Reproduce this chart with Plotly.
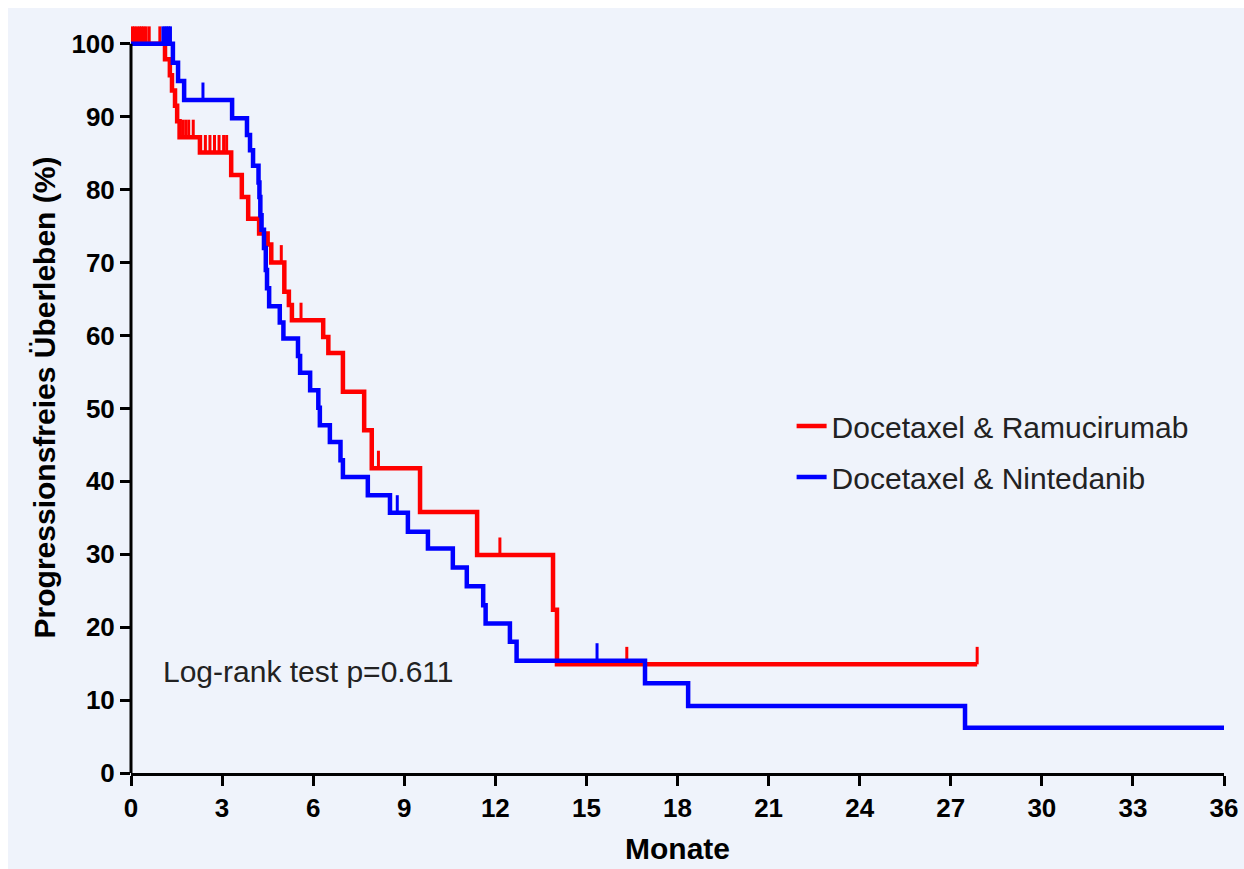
import plotly.graph_objects as go

# ---------------- data ----------------
red_name = "Docetaxel & Ramucirumab"
blue_name = "Docetaxel & Nintedanib"

red_times = [0, 1.12, 1.28, 1.35, 1.45, 1.52, 1.6, 2.27, 3.3, 3.65, 3.86, 4.22, 4.5,
             4.62, 5.05, 5.2, 5.3, 6.33, 6.5, 6.98, 7.68, 7.93, 9.52, 11.4, 13.9, 14.03]
red_surv = [100, 97.9, 95.7, 93.6, 91.5, 89.4, 87.2, 85.1, 82.0, 79.0, 76.0, 74.0, 72.5,
            70.0, 66.0, 64.2, 62.1, 59.8, 57.6, 52.3, 47.0, 41.8, 35.8, 29.9, 22.4, 14.9]
red_end = 27.87
red_censor = [0.05, 0.12, 0.2, 0.28, 0.35, 0.42, 0.5, 0.6, 0.95, 1.7, 1.8, 1.9, 2.05,
              2.45, 2.6, 2.75, 2.9, 3.05, 3.15, 4.95, 5.6, 8.15, 12.15, 16.33, 27.87]

blue_times = [0, 1.38, 1.55, 1.75, 3.33, 3.82, 3.92, 4.02, 4.2, 4.23, 4.26, 4.3, 4.38,
              4.44, 4.48, 4.55, 4.9, 5.02, 5.5, 5.57, 5.9, 6.17, 6.22, 6.55, 6.9, 6.98,
              7.8, 8.53, 9.12, 9.78, 10.6, 11.06, 11.6, 11.68, 12.48, 12.7, 16.93, 18.35,
              27.47]
blue_surv = [100, 97.4, 94.9, 92.3, 89.8, 87.5, 85.4, 83.3, 81.0, 79.0, 76.5, 74.5, 72.0,
             69.0, 66.5, 64.0, 61.8, 59.6, 57.2, 54.9, 52.5, 50.1, 47.7, 45.4, 42.9, 40.6,
             38.1, 35.7, 33.1, 30.8, 28.2, 25.6, 23.0, 20.5, 18.0, 15.4, 12.3, 9.2, 6.2]
blue_end = 36.0
blue_censor = [1.05, 1.12, 1.18, 1.24, 1.3, 2.37, 8.77, 15.35]

x_ticks = [0, 3, 6, 9, 12, 15, 18, 21, 24, 27, 30, 33, 36]
y_ticks = [0, 10, 20, 30, 40, 50, 60, 70, 80, 90, 100]

x_title = "Monate"
y_title = "Progressionsfreies Überleben (%)"
p_text = "Log-rank test p=0.611"
p_pos = (1.0, 13.9)

# ---------------- styling ----------------
RED = "#FF0000"
BLUE = "#0000FF"
BG = "#EFF3FB"
FONT = "Liberation Sans"
TICK_LEN = 2.4  # censor tick length in % units

W, H = 1244, 869
ML, MR, MT, MB = 131, 20, 22, 96
BORDER = 8  # white strip at top and left
PW, PH = W - ML - MR, H - MT - MB


def surv_at(times, surv, t):
    s = surv[0]
    for ti, si in zip(times, surv):
        if ti <= t:
            s = si
    return s


def censor_segments(times, surv, cens):
    xs, ys = [], []
    for c in cens:
        s = surv_at(times, surv, c)
        xs += [c, c, None]
        ys += [s, s + TICK_LEN, None]
    return xs, ys


fig = go.Figure()

for name, times, surv, end, cens, col, grp in [
    (red_name, red_times, red_surv, red_end, red_censor, RED, "r"),
    (blue_name, blue_times, blue_surv, blue_end, blue_censor, BLUE, "b"),
]:
    fig.add_trace(go.Scatter(
        x=times + [end], y=surv + [surv[-1]], mode="lines", name=name,
        line=dict(color=col, width=4.5, shape="hv"), legendgroup=grp,
    ))
    cx, cy = censor_segments(times, surv, cens)
    fig.add_trace(go.Scatter(
        x=cx, y=cy, mode="lines", showlegend=False, legendgroup=grp,
        line=dict(color=col, width=3), hoverinfo="skip",
    ))

fig.add_annotation(
    x=p_pos[0], y=p_pos[1], xref="x", yref="y", text=p_text, showarrow=False,
    xanchor="left", yanchor="middle", font=dict(family=FONT, size=30, color="#222222"),
)

# light-blue page background, leaving a thin white strip at top and left
fig.add_shape(type="rect", xref="paper", yref="paper", layer="below",
              x0=(BORDER - ML) / PW, x1=(W - ML + 2) / PW,
              y0=-(MB + 2) / PH, y1=1 + (MT - BORDER) / PH,
              line=dict(width=0), fillcolor=BG)

# y axis line from 0 to 100 only
fig.add_shape(type="line", xref="paper", yref="y", x0=0, x1=0, y0=0, y1=100,
              line=dict(color="black", width=3))

fig.update_layout(
    width=W, height=H,
    margin=dict(l=ML, r=MR, t=MT, b=MB, pad=0),
    paper_bgcolor="white", plot_bgcolor="rgba(0,0,0,0)",
    showlegend=True,
    legend=dict(
        x=0.6044, y=0.4967, xanchor="left", yanchor="top",
        font=dict(family=FONT, size=30, color="#222222"),
        bgcolor="rgba(0,0,0,0)", tracegroupgap=9,
    ),
    xaxis=dict(
        range=[0, 36], tickvals=x_ticks, ticks="outside", ticklen=10, tickwidth=2.5,
        tickcolor="black", showline=True, linecolor="black", linewidth=3,
        showgrid=False, zeroline=False, automargin=False,
        tickfont=dict(family=FONT, size=26, color="black", weight="bold"),
        title=dict(text=x_title, standoff=16,
                   font=dict(family=FONT, size=30, color="black", weight="bold")),
    ),
    yaxis=dict(
        range=[0, 103], tickvals=y_ticks, ticks="outside", ticklen=10, tickwidth=2.5,
        tickcolor="black", showline=False, showgrid=False, zeroline=False,
        automargin=False,
        tickfont=dict(family=FONT, size=26, color="black", weight="bold"),
        title=dict(text=y_title, standoff=6,
                   font=dict(family=FONT, size=30, color="black", weight="bold")),
    ),
)

fig.write_html(
    "out.html",
    config={"displayModeBar": False},
    post_script="document.body.style.margin='0';"
                "document.documentElement.style.overflow='hidden';",
)
